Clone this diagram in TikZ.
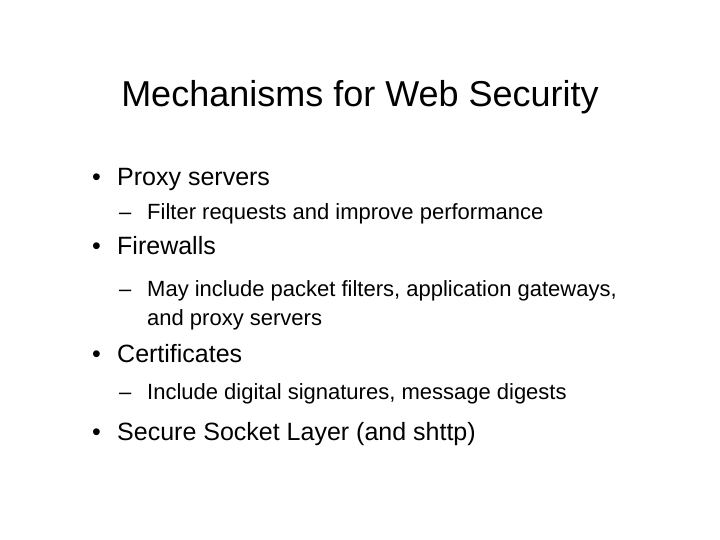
\documentclass[tikz,border=0pt]{standalone}
\usepackage{fontspec}
\setmainfont{Liberation Sans}
\begin{document}
\begin{tikzpicture}[x=1pt,y=1pt,
  t/.style={anchor=base west,inner sep=0pt,font=\fontsize{25}{29}\selectfont},
  s/.style={anchor=base west,inner sep=0pt,font=\fontsize{22}{26}\selectfont,align=left}]
\useasboundingbox (0,0) rectangle (720,540);
\node[anchor=base,inner sep=0pt,font=\fontsize{36}{40}\selectfont] (title) at (360,433) {Mechanisms for Web Security};
\node[t] (b1) at (92,354) {•};
\node[t] (p1) at (117,354) {Proxy servers};
\node[s] (d1) at (119,320) {–};
\node[s] (q1) at (147,320) {Filter requests and improve performance};
\node[t] (b2) at (92,285) {•};
\node[t] (p2) at (117,285) {Firewalls};
\node[s] (d2) at (119,243) {–};
\node[s] (q2) at (147,243) {May include packet filters, application gateways,};
\node[s] (q2b) at (147,214) {and proxy servers};
\node[t] (b3) at (92,177) {•};
\node[t] (p3) at (117,177) {Certificates};
\node[s] (d3) at (119,140) {–};
\node[s] (q3) at (147,140) {Include digital signatures, message digests};
\node[t] (b4) at (92,99) {•};
\node[t] (p4) at (117,99) {Secure Socket Layer (and shttp)};
\end{tikzpicture}
\end{document}
